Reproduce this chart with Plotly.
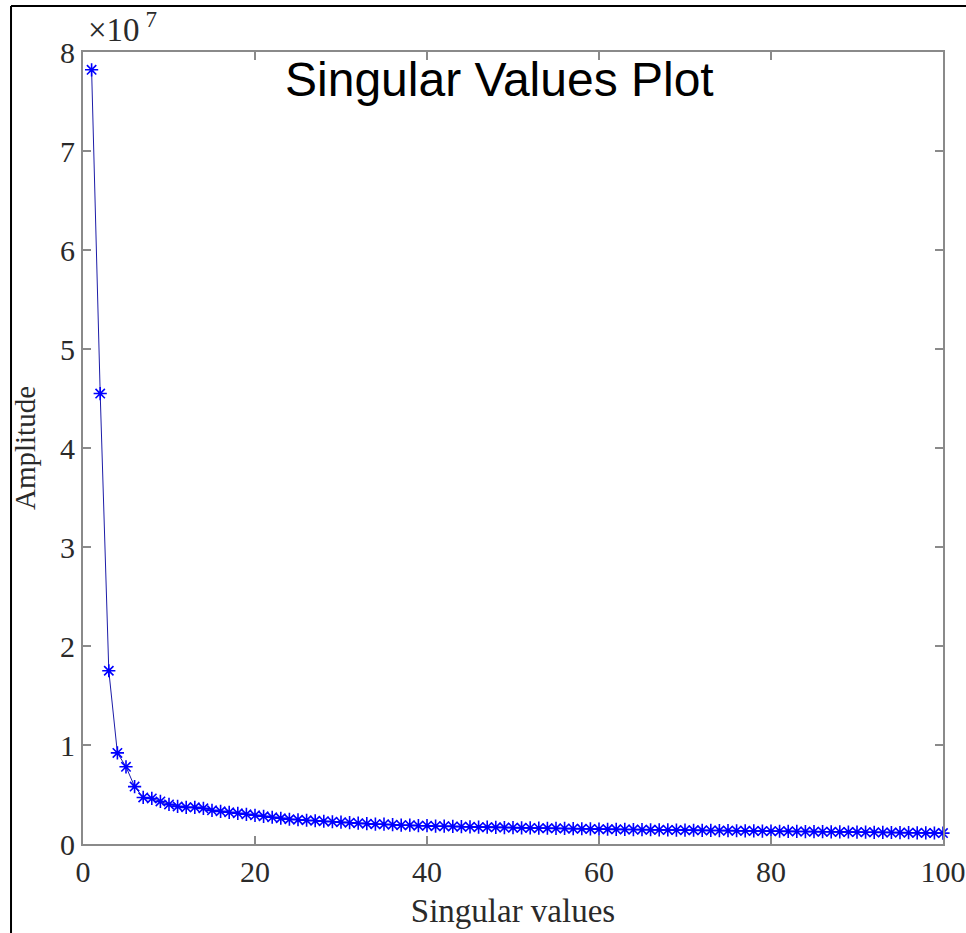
import plotly.graph_objects as go

# ---- data (amplitude in units of 1e7) ----
EXPONENT = 7
index = list(range(1, 101))
amplitude_e7 = [
    7.82, 4.55, 1.75, 0.92, 0.78, 0.58, 0.47, 0.46, 0.43, 0.40,
    0.38, 0.37, 0.37, 0.36, 0.34, 0.33, 0.32, 0.31, 0.30, 0.29,
    0.28, 0.27, 0.26, 0.25, 0.245, 0.24, 0.235, 0.23, 0.225, 0.22,
    0.215, 0.21, 0.205, 0.20, 0.20, 0.195, 0.19, 0.19, 0.185, 0.185,
    0.18, 0.18, 0.178, 0.175, 0.173, 0.17, 0.17, 0.168, 0.166, 0.165,
    0.163, 0.162, 0.16, 0.159, 0.158, 0.157, 0.155, 0.154, 0.152, 0.15,
    0.149, 0.148, 0.147, 0.146, 0.145, 0.144, 0.143, 0.142, 0.141, 0.14,
    0.139, 0.138, 0.137, 0.136, 0.135, 0.134, 0.133, 0.132, 0.131, 0.13,
    0.129, 0.128, 0.127, 0.126, 0.125, 0.124, 0.123, 0.122, 0.121, 0.12,
    0.119, 0.118, 0.117, 0.116, 0.115, 0.114, 0.113, 0.112, 0.111, 0.11,
]
x_ticks = [0, 20, 40, 60, 80, 100]
y_ticks = [0, 1, 2, 3, 4, 5, 6, 7, 8]

title_text = "Singular Values Plot"
x_title = "Singular values"
y_title = "Amplitude"

serif = "Liberation Serif, Times New Roman, serif"
axis_gray = "#8a8a8a"
label_col = "#2a2a2a"

fig = go.Figure()
fig.add_trace(go.Scatter(
    x=index, y=amplitude_e7, mode="lines+markers",
    line=dict(color="#1c1ca8", width=1),
    marker=dict(symbol="asterisk-open", size=11, color="blue",
                line=dict(color="blue", width=1.6)),
    cliponaxis=False, showlegend=False,
))

axis_common = dict(
    showgrid=False, zeroline=False, showline=True, linecolor=axis_gray,
    linewidth=2, mirror="allticks", ticks="inside", ticklen=8,
    tickcolor=axis_gray, tickwidth=1.5, automargin=False,
    ticklabeloverflow="allow",
    tickfont=dict(family=serif, size=30, color=label_col),
)

fig.update_xaxes(range=[0, 100], tickvals=x_ticks,
                 title=dict(text=x_title, font=dict(family=serif, size=33, color=label_col), standoff=12),
                 **axis_common)
fig.update_yaxes(range=[0, 8], tickvals=y_ticks,
                 title=dict(text=y_title, font=dict(family=serif, size=29, color=label_col), standoff=16),
                 **axis_common)

fig.update_layout(
    width=966, height=933,
    margin=dict(l=83, r=23, t=52, b=89, autoexpand=False),
    paper_bgcolor="white", plot_bgcolor="white",
    annotations=[
        dict(text=title_text, xref="paper", yref="paper", x=0.484, y=0.965,
             xanchor="center", yanchor="middle", showarrow=False,
             font=dict(family="Liberation Sans, Arial, sans-serif", size=48, color="black")),
        dict(text="×10<sup> %d</sup>" % EXPONENT, xref="paper", yref="paper",
             x=0.003, y=1.002, xanchor="left", yanchor="bottom", showarrow=False,
             font=dict(family=serif, size=33, color=label_col)),
    ],
    shapes=[
        dict(type="line", xref="paper", yref="paper", x0=-0.0837, x1=1.03,
             y0=1.058, y1=1.058, line=dict(color="black", width=2)),
        dict(type="line", xref="paper", yref="paper", x0=-0.0837, x1=-0.0837,
             y0=1.058, y1=-0.12, line=dict(color="black", width=2)),
    ],
)

fig.write_html("out.html")
